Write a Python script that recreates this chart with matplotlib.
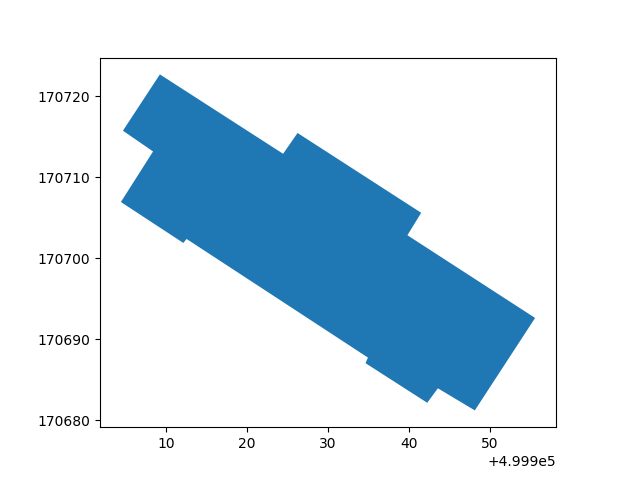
import numpy as np
import matplotlib
matplotlib.use("Agg")
import matplotlib.pyplot as plt

# outline of the merged footprint (easting, northing)
x0 = 499900
y0 = 170700
xs = [9.26, 24.47, 26.25, 41.51, 39.81, 55.57, 48.13, 43.57,
      42.26, 34.64, 34.94, 12.56, 12.15, 4.45, 8.42, 4.70]
ys = [22.69, 12.89, 15.46, 5.61, 2.84, -7.37, -18.78, -16.05,
      -17.84, -12.95, -12.26, 2.38, 1.89, 6.94, 13.18, 15.74]

px = np.array(xs) + x0
py = np.array(ys) + y0

fig, ax = plt.subplots(figsize=(6.4, 4.8), dpi=100)
ax.fill(px, py, color="#1f77b4", linewidth=0)
ax.set_aspect("equal")

fig.savefig("out.png")
